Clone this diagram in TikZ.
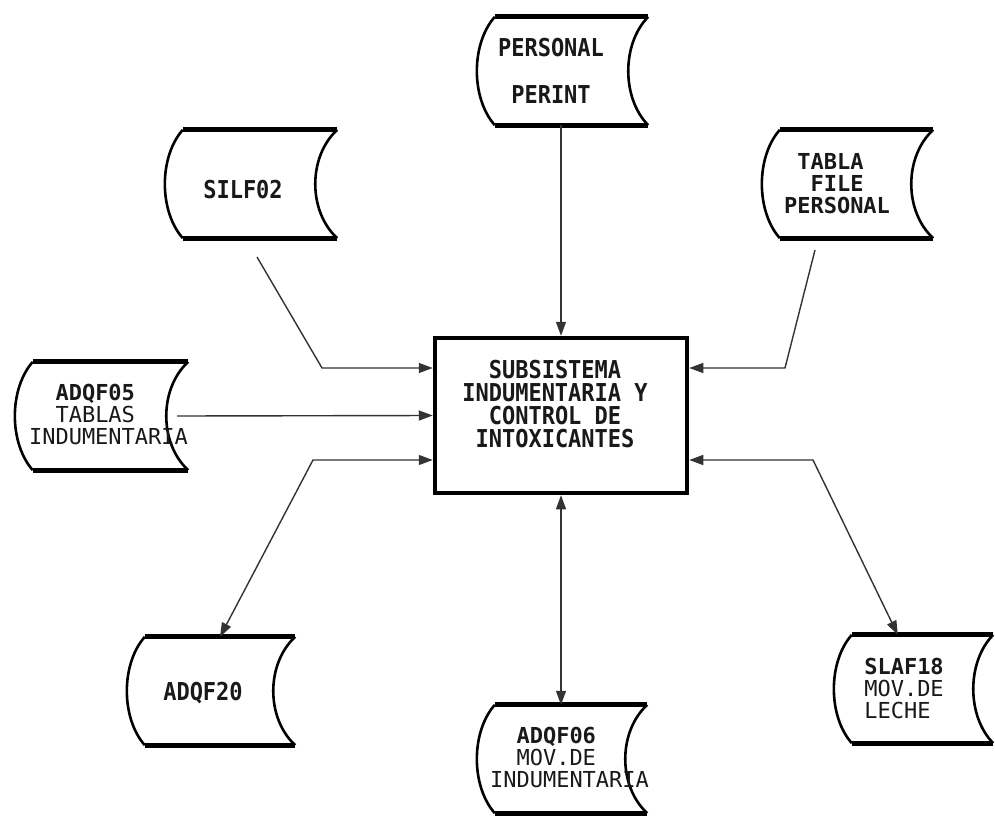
\documentclass[tikz,border=0pt]{standalone}
\usepackage{fontspec}
\newfontfamily\mono{DejaVu Sans Mono}
\usetikzlibrary{calc,arrows.meta}
\newcommand\tl[1]{\scalebox{1}[1.12]{#1}}
\tikzset{
  store/.style={rectangle, draw=none, inner sep=0pt},
  lbl/.style={font=\mono\fontsize{22}{22}\selectfont, inner sep=0pt, align=left, text=black!90},
  blbl/.style={lbl, font=\mono\bfseries\fontsize{22}{22}\selectfont},
  conn/.style={line width=1.4pt, draw=black!80},
  arr/.style={-{Triangle[length=14pt,width=10pt]}},
  darr/.style={{Triangle[length=14pt,width=10pt]}-{Triangle[length=14pt,width=10pt]}},
  mainbox/.style={rectangle, draw=black, line width=4.5pt, inner sep=0pt},
}
\newcommand\storeshape[3]{%
  \draw[line width=2.6pt] (#1.north west) .. controls ($(#1.north west)+(-1.33*#2,27)$) and ($(#1.south west)+(-1.33*#2,-27)$) .. (#1.south west);
  \draw[line width=2.6pt] (#1.north east) .. controls ($(#1.north east)+(-1.33*#3,27)$) and ($(#1.south east)+(-1.33*#3,-27)$) .. (#1.south east);
  \draw[line width=5pt] (#1.north west) -- (#1.north east);
  \draw[line width=5pt] (#1.south west) -- (#1.south east);
}
\begin{document}
\begin{tikzpicture}[x=1pt,y=-1pt]
\useasboundingbox (0,0) rectangle (995,816);
\fill[white] (0,0) rectangle (995,816);

% central box
\node[mainbox, minimum width=252pt, minimum height=155pt] (box) at (561,415.5) {};
\node[blbl, align=center, font=\mono\bfseries\fontsize{22}{22.7}\selectfont] (boxt) at (555,404) {\tl{SUBSISTEMA}\\\tl{INDUMENTARIA Y}\\\tl{CONTROL DE}\\\tl{INTOXICANTES}};

% data stores
\node[store, minimum width=153pt, minimum height=108pt] (perint) at (571.5,71) {};
\node[store, minimum width=154pt, minimum height=108pt] (silf) at (260,184) {};
\node[store, minimum width=153pt, minimum height=108pt] (tabla) at (856.5,184) {};
\node[store, minimum width=155pt, minimum height=108pt] (adqf05) at (110.5,416) {};
\node[store, minimum width=150pt, minimum height=108pt] (adqf20) at (220,691) {};
\node[store, minimum width=152pt, minimum height=108pt] (adqf06) at (571,759) {};
\node[store, minimum width=141pt, minimum height=108pt] (slaf18) at (922.5,689) {};

\storeshape{perint}{18}{20}
\storeshape{silf}{18}{22}
\storeshape{tabla}{18}{22}
\storeshape{adqf05}{18}{22}
\storeshape{adqf20}{18}{22}
\storeshape{adqf06}{18}{22}
\storeshape{slaf18}{18}{20}

% labels
\node[blbl, align=center] (perintt) at (551,70.5) {\tl{PERSONAL}\\[25pt]\tl{PERINT}};
\node[blbl] (silft) at (243,190) {\tl{SILF02}};
\node[blbl] (tablat) at (837,184) {\hphantom{X}TABLA\\\hphantom{XX}FILE\\PERSONAL};
\node[lbl] (adqf05t) at (108.5,414) {{\bfseries\hphantom{XX}ADQF05}\\\hphantom{XX}TABLAS\\INDUMENTARIA};
\node[blbl] (adqf20t) at (203,693) {\tl{ADQF20}};
\node[lbl] (adqf06t) at (569.5,757) {{\bfseries\hphantom{XX}ADQF06}\\\hphantom{XX}MOV.DE\\INDUMENTARIA};
\node[lbl] (slaf18t) at (904,688) {{\bfseries SLAF18}\\MOV.DE\\LECHE};

% connectors
\coordinate (s1) at (257,257);
\coordinate (s2) at (322,368);
\draw[conn,arr] (s1) -- (s2) -- (s2 -| box.west);

\draw[conn,arr] ($(adqf05.east)+(-11,0)$) -- (box.west);

\coordinate (b1) at (313,460);
\draw[conn,darr] (adqf20.north) -- (b1) -- (b1 -| box.west);

\draw[conn,arr] (box.north |- perint.south) -- (box.north);

\draw[conn,darr] (box.south) -- (box.south |- adqf06.north);

\coordinate (t0) at (815,250);
\coordinate (t1) at (785,368);
\draw[conn,arr] (t0) -- (t1) -- (t1 -| box.east);

\coordinate (c1) at (813,460);
\draw[conn,darr] (c1 -| box.east) -- (c1) -- ($(slaf18.north west)+(46,0)$);
\end{tikzpicture}
\end{document}
